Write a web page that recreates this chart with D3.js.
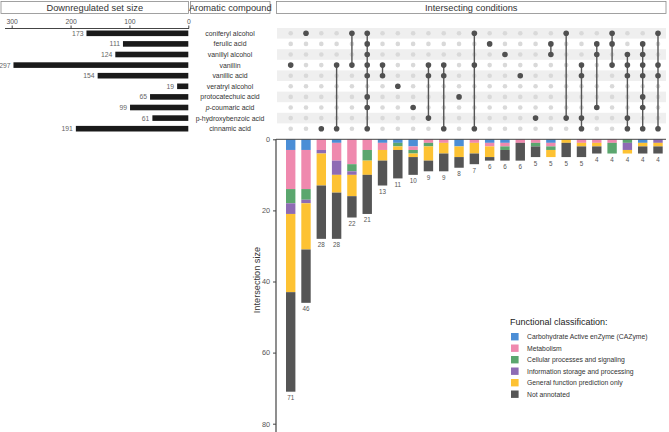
<!DOCTYPE html>
<html><head><meta charset="utf-8">
<script src="https://cdn.jsdelivr.net/npm/d3@7"></script>
<style>body{margin:0;background:#fff}svg{display:block;font-family:"Liberation Sans",Arial,sans-serif}</style>
</head><body><svg id="c" width="669" height="432"></svg>
<script>
const sets = ["coniferyl alcohol","ferulic acid","vanillyl alcohol","vanillin","vanillic acid","veratryl alcohol","protocatechuic acid","p-coumaric acid","p-hydroxybenzoic acid","cinnamic acid"];
const setSizes = [173,111,124,297,154,19,65,99,61,191];
const setTicks = [300,200,100,0];
const intersections = [
  ["vanillin"],
  ["coniferyl alcohol"],
  ["cinnamic acid"],
  ["vanillin","cinnamic acid"],
  ["coniferyl alcohol","vanillin"],
  ["coniferyl alcohol","ferulic acid","vanillyl alcohol","vanillin","vanillic acid","protocatechuic acid","p-coumaric acid","cinnamic acid"],
  ["vanillin","vanillic acid"],
  ["veratryl alcohol"],
  ["p-coumaric acid"],
  ["vanillin","vanillic acid","p-hydroxybenzoic acid"],
  ["vanillin","vanillic acid","cinnamic acid"],
  ["protocatechuic acid"],
  ["coniferyl alcohol","vanillin","cinnamic acid"],
  ["ferulic acid"],
  ["vanillyl alcohol"],
  ["vanillic acid"],
  ["p-hydroxybenzoic acid"],
  ["ferulic acid","vanillyl alcohol"],
  ["coniferyl alcohol","p-hydroxybenzoic acid"],
  ["vanillin","vanillic acid","p-hydroxybenzoic acid","cinnamic acid"],
  ["ferulic acid","vanillyl alcohol","p-coumaric acid"],
  ["coniferyl alcohol","ferulic acid","vanillin"],
  ["vanillyl alcohol","vanillin","vanillic acid","p-hydroxybenzoic acid","cinnamic acid"],
  ["ferulic acid","vanillyl alcohol","vanillin","vanillic acid","protocatechuic acid","p-coumaric acid","cinnamic acid"],
  ["coniferyl alcohol","vanillin","vanillic acid","cinnamic acid"]
];
const categories = ["Carbohydrate Active enZyme (CAZyme)","Metabolism","Cellular processes and signaling","Information storage and processing","General function prediction only","Not annotated"];
const cazyme       = [3,3,0,1,0,0,1,1,2,0, 0,2,0,1,1, 0,0,1,0,0, 0,0,0,1,0];
const metabolism   = [11,11,3,5,7,3,2,0,1,1, 1,0,1,1,1, 1,1,1,0,1, 1,1,0,0,0];
const cellular     = [4,3,0,0,2,3,0,1,1,1, 0,0,0,0,1, 0,1,1,0,0, 0,3,1,0,0];
const information  = [3,1,1,4,1,0,0,0,0,0, 0,0,0,0,0, 0,0,0,0,0, 0,0,2,0,1];
const general      = [22,13,9,5,6,4,3,1,1,4, 3,3,3,3,0, 0,0,2,1,1, 1,0,1,1,1];
const notAnnotated = [28,15,15,13,6,11,7,8,5,3, 5,3,3,1,3, 5,3,0,4,3, 2,0,0,2,2];
const sizeTicks = [0,20,40,60,80];
const colors = ["#4b8ed6","#ef89ae","#5ba66e","#8e6bb4","#fdc233","#555555"];

const svg = d3.select("#c");
const catValues = [cazyme, metabolism, cellular, information, general, notAnnotated];
const cols = d3.range(intersections.length);
const table = cols.map(i => {
  const o = {i};
  categories.forEach((c,k) => o[c] = catValues[k][i]);
  o.total = d3.sum(catValues, v => v[i]);
  return o;
});

// Scales
const x = d3.scalePoint().domain(cols).range([290.7, 658]);
const y = d3.scalePoint().domain(sets).range([33.3, 128.7]);
const rowH = 10.6;
const xs = d3.scaleLinear().domain([0,300]).range([188.3, 11.7]);
const ys = d3.scaleLinear().domain([0,80]).range([139.3, 423.7]);
const color = d3.scaleOrdinal().domain(categories).range(colors);

// Header boxes
const headers = [
  {t:"Downregulated set size", x0:1, x1:188.5},
  {t:"Aromatic compound", x0:190.5, x1:270},
  {t:"Intersecting conditions", x0:276.5, x1:666}
];
svg.selectAll("g.hdr").data(headers).join("g").attr("class","hdr").each(function(d){
  const g = d3.select(this);
  g.append("rect").attr("x",d.x0).attr("y",1.5).attr("width",d.x1-d.x0).attr("height",12)
    .attr("fill","none").attr("stroke","#8a8a8a").attr("stroke-width",0.8);
  g.append("text").attr("x",(d.x0+d.x1)/2).attr("y",10.8).attr("text-anchor","middle")
    .attr("font-size",9.3).attr("fill","#333").text(d.t);
});

// Stripes
svg.append("g").selectAll("rect").data(sets.filter((s,i)=>i%2===0)).join("rect")
  .attr("x",277).attr("width",389).attr("y",d=>y(d)-rowH/2).attr("height",rowH)
  .attr("fill","#efefef");

// Left set size bars
const gl = svg.append("g");
const axL = d3.axisTop(xs).tickValues(setTicks).tickSize(3).tickPadding(2);
const axLg = gl.append("g").attr("transform","translate(0,28.5)").call(axL);
axLg.select(".domain").attr("d","M5,0H189").attr("stroke","#444");
axLg.selectAll(".tick line").attr("stroke","#444");
axLg.selectAll("text").attr("font-size",6.8).attr("fill","#555").attr("font-family","Liberation Sans, Arial");
gl.selectAll("rect").data(sets).join("rect")
  .attr("x",(d,i)=>xs(setSizes[i])).attr("width",(d,i)=>xs(0)-xs(setSizes[i]))
  .attr("y",d=>y(d)-2.8).attr("height",5.6).attr("fill","#1a1a1a");
gl.selectAll("text.sz").data(sets).join("text").attr("class","sz")
  .attr("x",(d,i)=>xs(setSizes[i])-3).attr("y",d=>y(d)+2.4).attr("text-anchor","end")
  .attr("font-size",6.8).attr("fill","#666").text((d,i)=>setSizes[i]);

// Row labels
const rl = svg.append("g").selectAll("text").data(sets).join("text")
  .attr("x",230).attr("y",d=>y(d)+2.4).attr("text-anchor","middle")
  .attr("font-size",6.9).attr("fill","#333");
rl.each(function(d){
  const t = d3.select(this);
  if (d === "p-coumaric acid") {
    t.append("tspan").attr("font-style","italic").text("p");
    t.append("tspan").text(d.slice(1));
  } else t.text(d);
});

// Matrix dots
const gm = svg.append("g");
cols.forEach(i => {
  gm.selectAll(null).data(sets).join("circle")
    .attr("cx",x(i)).attr("cy",d=>y(d)).attr("r",2.3).attr("fill","#d9d9d9");
});
cols.forEach(i => {
  const mem = intersections[i];
  const yy = mem.map(s=>y(s));
  if (mem.length>1) gm.append("line").attr("x1",x(i)).attr("x2",x(i))
    .attr("y1",d3.min(yy)).attr("y2",d3.max(yy)).attr("stroke","#555").attr("stroke-width",1.4);
  gm.selectAll(null).data(mem).join("circle")
    .attr("cx",x(i)).attr("cy",d=>y(d)).attr("r",2.8).attr("fill","#505050");
});

// Stacked bars
const stack = d3.stack().keys(categories)(table);
const bw = 9.4;
const gb = svg.append("g");
gb.selectAll("g").data(stack).join("g").attr("fill",d=>color(d.key))
  .selectAll("rect").data(d=>d).join("rect")
  .attr("x",d=>x(d.data.i)-bw/2).attr("width",bw)
  .attr("y",d=>ys(d[0])).attr("height",d=>ys(d[1])-ys(d[0]));
gb.selectAll("text.tot").data(table).join("text").attr("class","tot")
  .attr("x",d=>x(d.i)).attr("y",d=>ys(d.total)+8.5).attr("text-anchor","middle")
  .attr("font-size",6.3).attr("fill","#555").text(d=>d.total);

// Y axis
const axY = d3.axisLeft(ys).tickValues(sizeTicks).tickSize(3).tickPadding(3);
const gy = svg.append("g").attr("transform","translate(276,0)").call(axY);
gy.select(".domain").attr("d","M0,139.3V432").attr("stroke","#444").attr("stroke-width",1.2);
gy.selectAll(".tick line").attr("stroke","#444");
gy.selectAll("text").attr("font-size",7.3).attr("fill","#555").attr("font-family","Liberation Sans, Arial");
svg.append("line").attr("x1",276).attr("x2",666).attr("y1",139.3).attr("y2",139.3)
  .attr("stroke","#444").attr("stroke-width",1);
svg.append("text").attr("transform","translate(259.5,280) rotate(-90)").attr("text-anchor","middle")
  .attr("font-size",9.2).attr("fill","#333").text("Intersection size");

// Legend
const lg = svg.append("g").attr("transform","translate(510,0)");
lg.append("text").attr("x",0).attr("y",325).attr("font-size",9).attr("fill","#222").text("Functional classification:");
const li = lg.selectAll("g").data(categories).join("g")
  .attr("transform",(d,i)=>`translate(0,${333+i*11.5})`);
li.append("rect").attr("x",1).attr("y",0).attr("width",7.6).attr("height",7.4).attr("fill",d=>color(d));
li.append("text").attr("x",17).attr("y",6.2).attr("font-size",6.8).attr("fill","#333").text(d=>d);
</script></body></html>
